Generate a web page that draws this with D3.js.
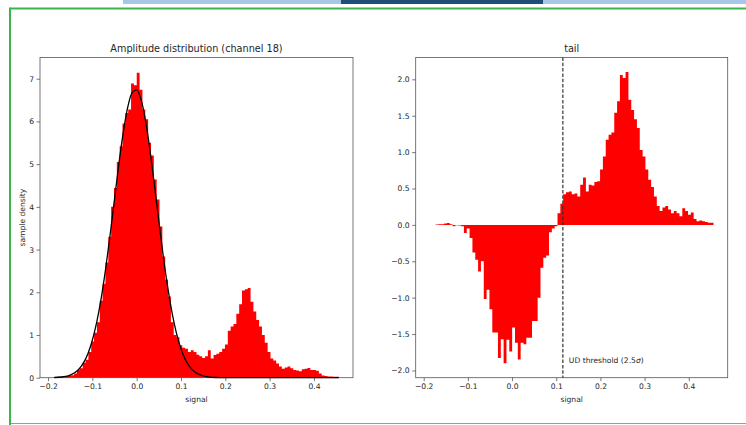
<!DOCTYPE html>
<html>
<head>
<meta charset="utf-8">
<script src="https://cdn.jsdelivr.net/npm/d3@7/dist/d3.min.js"></script>
<style>
  body { margin: 0; background: #fff; }
  svg { display: block; font-family: 'DejaVu Sans', sans-serif; }
</style>
</head>
<body>
<svg id="chart" width="746" height="425"></svg>
<script>
// histogram binning (signal range of the channel samples)
const binLow = -0.186,
  binHigh = 0.456,
  binCount = 100;

// sample density per bin (left panel)
const density = [
  0.01, 0.02, 0.02, 0.03, 0.04, 0.05, 0.06, 0.1, 0.18, 0.22,
  0.35, 0.42, 0.6, 0.85, 1.05, 1.3, 1.8, 2.2, 2.7, 3.3,
  4.0, 4.44, 5.05, 5.42, 5.95, 6.2, 6.28, 6.89, 6.85, 7.14,
  6.74, 6.28, 6.05, 5.5, 5.2, 4.64, 4.17, 3.54, 2.84, 2.3,
  1.9, 1.3, 1.0, 0.95, 0.76, 0.7, 0.68, 0.6, 0.64, 0.6,
  0.54, 0.5, 0.46, 0.5, 0.64, 0.45, 0.53, 0.56, 0.6, 0.68,
  0.78, 1.1, 1.2, 1.26, 1.5, 1.72, 2.04, 2.07, 2.1, 1.78,
  1.55, 1.35, 1.2, 1.0, 0.82, 0.6, 0.45, 0.4, 0.33, 0.26,
  0.21, 0.24, 0.26, 0.22, 0.18, 0.17, 0.15, 0.2, 0.21, 0.23,
  0.18, 0.18, 0.16, 0.1, 0.05, 0.04, 0.03, 0.03, 0.02, 0.02
];

// tail per bin (right panel)
const tail = [
  0, 0, 0.005, 0.01, 0.01, 0.02, 0.025, 0.01, -0.02, -0.005,
  -0.01, -0.02, -0.11, -0.05, -0.18, -0.38, -0.48, -0.64, -0.5, -1.02,
  -0.89, -1.16, -1.48, -1.48, -1.83, -1.57, -1.9, -1.58, -1.74, -1.41,
  -1.62, -1.85, -1.62, -1.64, -1.55, -1.55, -1.32, -1.32, -1.0, -0.59,
  -0.45, -0.42, -0.1, -0.05, -0.02, 0.16, 0.29, 0.42, 0.45, 0.46,
  0.42, 0.43, 0.39, 0.55, 0.65, 0.46, 0.55, 0.54, 0.59, 0.6,
  0.76, 0.94, 1.17, 1.24, 1.27, 1.54, 1.7, 2.06, 2.02, 2.1,
  1.72, 1.58, 1.45, 1.33, 1.03, 0.94, 0.76, 0.62, 0.52, 0.39,
  0.26, 0.19, 0.24, 0.26, 0.21, 0.16, 0.19, 0.16, 0.12, 0.23,
  0.19, 0.14, 0.17, 0.08, 0.05, 0.06, 0.05, 0.04, 0.03, 0.03
];

// gaussian fit drawn over the histogram
const fitSignal = [
  -0.186, -0.17, -0.16, -0.15, -0.14, -0.13, -0.12, -0.11, -0.1, -0.09,
  -0.08, -0.07, -0.06, -0.05, -0.04, -0.03, -0.02, -0.01, 0, 0.01,
  0.02, 0.03, 0.04, 0.05, 0.06, 0.07, 0.08, 0.09, 0.1, 0.11,
  0.12, 0.13, 0.14, 0.15, 0.16, 0.17, 0.18, 0.19, 0.2, 0.25,
  0.3, 0.35, 0.4, 0.456
];
const fitDensity = [
  0.005, 0.016, 0.032, 0.062, 0.115, 0.204, 0.346, 0.562, 0.876, 1.305,
  1.864, 2.548, 3.335, 4.18, 5.015, 5.76, 6.34, 6.68, 6.74, 6.51,
  6.02, 5.33, 4.52, 3.67, 2.85, 2.12, 1.51, 1.03, 0.675, 0.422,
  0.253, 0.145, 0.08, 0.042, 0.021, 0.01, 0.0045, 0.002, 0.001, 0,
  0, 0, 0, 0
];

const signalTicks = [-0.2, -0.1, 0, 0.1, 0.2, 0.3, 0.4];
const densityTicks = [0, 1, 2, 3, 4, 5, 6, 7];
const tailTicks = [-2, -1.5, -1, -0.5, 0, 0.5, 1, 1.5, 2];
const threshold = 0.115;

const titles = ['Amplitude distribution (channel 18)', 'tail'];

const plotTop = 57.5,
  plotBottom = 377.7,
  panels = [
    { left: 40, right: 353 },
    { left: 415.7, right: 727.7 }
  ],
  barColor = '#ff0000',
  frameColor = '#555',
  textColor = '#262626',
  tickFont = 7.6,
  titleFont = 9.7;

const svg = d3.select('#chart');

/* page decoration around the figure */
svg.append('rect').attr('x', 123).attr('y', 0).attr('width', 218).attr('height', 4).attr('fill', '#a7c7e7');
svg.append('rect').attr('x', 341).attr('y', 0).attr('width', 202).attr('height', 4).attr('fill', '#1f4e79');
svg.append('rect').attr('x', 543).attr('y', 0).attr('width', 203).attr('height', 4).attr('fill', '#a7c7e7');
svg.append('line').attr('x1', 10).attr('x2', 746).attr('y1', 8.5).attr('y2', 8.5)
  .attr('stroke', '#3cb44b').attr('stroke-width', 2);
svg.append('line').attr('x1', 10).attr('x2', 10).attr('y1', 7.5).attr('y2', 425)
  .attr('stroke', '#3cb44b').attr('stroke-width', 2);
svg.append('line').attr('x1', 11).attr('x2', 746).attr('y1', 423.5).attr('y2', 423.5)
  .attr('stroke', '#9a9a9a').attr('stroke-width', 1.2);

const edges = d3.range(binCount + 1).map(i => binLow + (i * (binHigh - binLow)) / binCount);
const pad = (binHigh - binLow) * 0.05;
const fmt = d => d3.format('.1f')(d).replace('-', '\u2212');

function drawPanel(p, values, yTicks, yFmt, title) {
  const x = d3.scaleLinear().domain([binLow - pad, binHigh + pad]).range([p.left, p.right]);
  const yMin = Math.min(0, d3.min(values)),
    yMax = d3.max(values),
    ySpan = yMax - yMin;
  const y = d3
    .scaleLinear()
    .domain([yMin < 0 ? yMin - ySpan * 0.05 : 0, yMax + ySpan * 0.05])
    .range([plotBottom, plotTop]);

  const g = svg.append('g');

  // every bin is one sub-rectangle of a single path, so neighbours join without seams
  const bars = d3.path();
  values.forEach((d, i) => {
    bars.rect(x(edges[i]), y(Math.max(0, d)), x(edges[i + 1]) - x(edges[i]), Math.abs(y(d) - y(0)));
  });
  g.append('path').attr('d', bars.toString()).attr('fill', barColor);

  const xAxis = g
    .append('g')
    .attr('transform', 'translate(0,' + plotBottom + ')')
    .call(d3.axisBottom(x).tickValues(signalTicks).tickSize(3.5).tickPadding(2.5).tickFormat(fmt));

  const yAxis = g
    .append('g')
    .attr('transform', 'translate(' + p.left + ',0)')
    .call(d3.axisLeft(y).tickValues(yTicks).tickSize(3.5).tickPadding(2.5).tickFormat(yFmt));

  [xAxis, yAxis].forEach(a => {
    a.select('.domain').remove();
    a.selectAll('line').attr('stroke', frameColor).attr('stroke-width', 0.8);
    a.selectAll('text')
      .attr('fill', textColor)
      .style('font-size', tickFont + 'px')
      .style('font-family', "'DejaVu Sans', sans-serif");
  });

  g.append('rect')
    .attr('x', p.left)
    .attr('y', plotTop)
    .attr('width', p.right - p.left)
    .attr('height', plotBottom - plotTop)
    .attr('fill', 'none')
    .attr('stroke', frameColor)
    .attr('stroke-width', 0.8);

  g.append('text')
    .attr('x', (p.left + p.right) / 2)
    .attr('y', plotTop - 5.5)
    .attr('text-anchor', 'middle')
    .attr('fill', textColor)
    .style('font-size', titleFont + 'px')
    .text(title);

  g.append('text')
    .attr('x', (p.left + p.right) / 2)
    .attr('y', 402)
    .attr('text-anchor', 'middle')
    .attr('fill', textColor)
    .style('font-size', tickFont + 'px')
    .text('signal');

  return { g, x, y };
}

/* left: amplitude distribution with gaussian fit */
const leftPanel = drawPanel(panels[0], density, densityTicks, d3.format('d'), titles[0]);

const fitLine = d3
  .line()
  .curve(d3.curveMonotoneX)
  .x(d => leftPanel.x(d[0]))
  .y(d => leftPanel.y(d[1]));

leftPanel.g
  .append('path')
  .attr('d', fitLine(d3.zip(fitSignal, fitDensity)))
  .attr('fill', 'none')
  .attr('stroke', '#000')
  .attr('stroke-width', 1.3);

leftPanel.g
  .append('text')
  .attr('transform', 'translate(24.5,' + (plotTop + plotBottom) / 2 + ') rotate(-90)')
  .attr('text-anchor', 'middle')
  .attr('fill', textColor)
  .style('font-size', tickFont + 'px')
  .text('sample density');

/* right: tail with threshold */
const rightPanel = drawPanel(panels[1], tail, tailTicks, fmt, titles[1]);

rightPanel.g
  .append('line')
  .attr('x1', rightPanel.x(threshold))
  .attr('x2', rightPanel.x(threshold))
  .attr('y1', plotTop)
  .attr('y2', plotBottom)
  .attr('stroke', '#333')
  .attr('stroke-width', 1.2)
  .attr('stroke-dasharray', '3.5,1.8');

const label = rightPanel.g
  .append('text')
  .attr('x', rightPanel.x(threshold) + 6)
  .attr('y', rightPanel.y(-1.9))
  .attr('fill', textColor)
  .style('font-size', tickFont + 'px');
label.append('tspan').text('UD threshold (2.5');
label.append('tspan').style('font-style', 'italic').text('\u03c3');
label.append('tspan').text(')');
</script>
</body>
</html>
